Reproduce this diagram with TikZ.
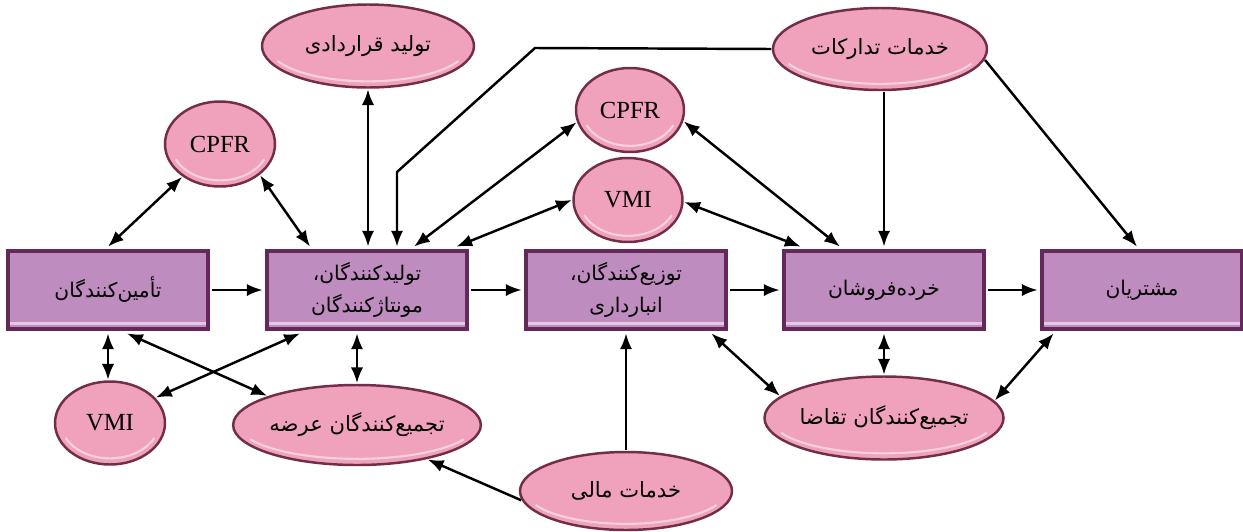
\documentclass[tikz,border=0pt]{standalone}
\usepackage{fontspec}
\setmainfont{Liberation Serif}
\newfontfamily\farsifont[Script=Arabic]{DejaVu Sans}
\TeXXeTstate=1
\usepackage{xcolor}
\usepackage{tikz}
\usetikzlibrary{arrows.meta,shapes.geometric,positioning,calc}

\definecolor{boxfill}{RGB}{190,140,190}
\definecolor{boxrim}{RGB}{100,40,90}
\definecolor{ovalfill}{RGB}{240,162,188}
\definecolor{ovalrim}{RGB}{115,45,75}

% persian text, right to left
\newcommand{\fatxt}[1]{{\farsifont\beginR #1\endR}}

\tikzset{
	stage/.style={draw=boxrim, fill=boxfill, line width=2pt, minimum width=4cm, minimum height=1.56cm,
		outer sep=2.5pt, align=center, font=\fontsize{11.5}{18}\selectfont,
		path picture={\draw[white!55!boxfill, line width=2pt] ([yshift=3pt]path picture bounding box.south west) -- ([yshift=3pt]path picture bounding box.south east);}},
	oval/.style={ellipse, draw=ovalrim, fill=ovalfill, line width=1.4pt, inner sep=0pt, outer sep=1pt,
		font=\fontsize{12}{14}\selectfont,
		path picture={\draw[white!50!ovalfill, line width=1.2pt] let \p1=(path picture bounding box.north east), \p2=(path picture bounding box.south west) in
			($(\p1)!0.5!(\p2)$) ++(205:{(\x1-\x2)/2-3.5pt} and {(\y1-\y2)/2-3.5pt})
			arc[start angle=205, end angle=335, x radius={(\x1-\x2)/2-3.5pt}, y radius={(\y1-\y2)/2-3.5pt}];}},
	latin/.style={font=\fontsize{14}{16}\selectfont},
	link/.style={line width=1.4pt, -{Latex[length=9pt,width=7pt]}},
	twoway/.style={line width=1.4pt, {Latex[length=9pt,width=7pt]}-{Latex[length=9pt,width=7pt]}},
}

\begin{document}
\begin{tikzpicture}[x=0.02cm, y=-0.02cm]
		\useasboundingbox[fill=white] (0,0) rectangle (1243,531);

		% chain of stages
		\node[stage] (b1) at (108,290) {\fatxt{تأمین‌کنندگان}};
		\node[stage] (b2) at (367,290) {\fatxt{تولیدکنندگان،}\\\fatxt{مونتاژکنندگان}};
		\node[stage] (b3) at (626,290) {\fatxt{توزیع‌کنندگان،}\\\fatxt{انبارداری}};
		\node[stage] (b4) at (884,290) {\fatxt{خرده‌فروشان}};
		\node[stage] (b5) at (1142,290) {\fatxt{مشتریان}};

		% services above
		\node[oval, minimum width=4.24cm, minimum height=1.66cm] (contract) at (368,46) {\fatxt{تولید قراردادی}};
		\node[oval, minimum width=4.28cm, minimum height=1.64cm] (logistics) at (880,49) {\fatxt{خدمات تدارکات}};
		\node[oval, latin, minimum width=2.2cm, minimum height=1.7cm] (cpfrA) at (220,144) {CPFR};
		\node[oval, latin, minimum width=2.16cm, minimum height=1.68cm] (cpfrB) at (630,110) {CPFR};
		\node[oval, latin, minimum width=2.18cm, minimum height=1.68cm] (vmiB) at (628,200) {VMI};

		% services below
		\node[oval, latin, minimum width=2.2cm, minimum height=1.66cm] (vmiA) at (110,423) {VMI};
		\node[oval, minimum width=4.26cm, minimum height=1.6cm] (supply) at (357,425) {\fatxt{تجمیع‌کنندگان عرضه}};
		\node[oval, minimum width=4.24cm, minimum height=1.56cm] (finance) at (626,491) {\fatxt{خدمات مالی}};
		\node[oval, minimum width=4.24cm, minimum height=1.66cm] (demand) at (884,418) {\fatxt{تجمیع‌کنندگان تقاضا}};

		\coordinate (bendA) at (535,48);
		\coordinate (bendB) at (397,172);

		% main flow
		\draw[link] (b1) -- (b2);
		\draw[link] (b2) -- (b3);
		\draw[link] (b3) -- (b4);
		\draw[link] (b4) -- (b5);

		% upper links
		\draw[twoway] (cpfrA.221) -- (b1.north);
		\draw[twoway] (cpfrA.322) -- ($(b2.north)+(-57,0)$);
		\draw[twoway] (contract.south) -- (contract.south |- b2.north);
		\draw[link] (logistics.west) -- (bendA) -- (bendB) -- (bendB |- b2.north);
		\draw[twoway] (cpfrB.193) -- ($(b2.north)+(47,0)$);
		\draw[twoway] (vmiB.west) -- ($(b2.north east)+(-15,0)$);
		\draw[twoway] (vmiB.358) -- ($(b4.north west)+(21,0)$);
		\draw[twoway] (cpfrB.348) -- ($(b4.north)+(-44,0)$);
		\draw[link] (logistics.south -| b4.north) -- (b4.north);
		\draw[link] (logistics.354) -- ($(b5.north)+(-5,0)$);

		% lower links
		\draw[twoway] (vmiA.north -| b1.south) -- (b1.south);
		\draw[twoway] ($(b1.south)+(19,0)$) -- (supply.162);
		\draw[twoway] ($(b2.south)+(-67,0)$) -- (vmiA.29);
		\draw[twoway] (supply.north) -- (supply.north |- b2.south);
		\draw[link] (finance.185) -- (supply.334);
		\draw[link] (finance.north) -- (finance.north |- b3.south);
		\draw[twoway] ($(b3.south east)+(-19,0)$) -- (demand.168);
		\draw[twoway] (demand.north) -- (demand.north |- b4.south);
		\draw[twoway] ($(b5.south west)+(16,0)$) -- (demand.9);
	\end{tikzpicture}
\end{document}
